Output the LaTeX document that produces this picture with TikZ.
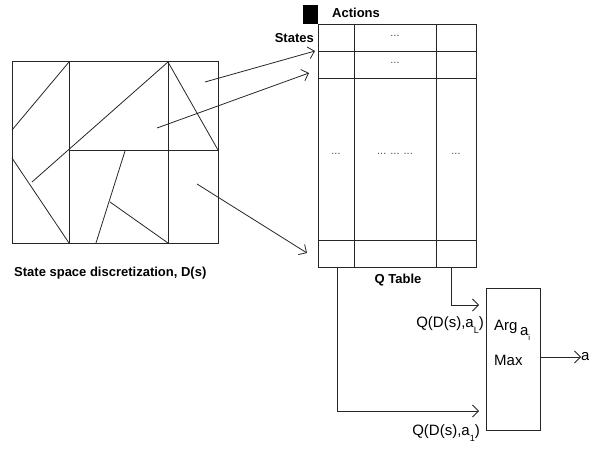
\documentclass[tikz,border=0pt]{standalone}
\usepackage{fontspec}
\setmainfont{Liberation Sans}
\usepackage{tikz}
\usetikzlibrary{arrows.meta, positioning, calc}

\begin{document}
\begin{tikzpicture}[x=1pt, y=-1pt,
        line/.style={line width=0.8pt, color=black!85},
        arrow/.style={line, -{Straight Barb[length=6pt, width=12pt]}},
        box/.style={draw=black!85, line width=0.8pt, anchor=north west, inner sep=0pt},
        lbl/.style={font=\bfseries\fontsize{13}{15}\selectfont, inner sep=0pt},
        txt/.style={font=\fontsize{15}{17}\selectfont, inner sep=0pt},
        dots/.style={font=\fontsize{11}{12}\selectfont, color=black!70, inner sep=0pt}
    ]
        \useasboundingbox (0,0) rectangle (589,452);

        % state space grid
        \node[box, minimum width=206, minimum height=182] (grid) at (12,61) {};
        \draw[line] (69,61) -- (69,243);
        \draw[line] (168,61) -- (168,243);
        \draw[line] (69,150) -- (218,150);
        \draw[line] (12,130) -- (69,62);
        \draw[line] (12,158) -- (69,243);
        \draw[line] (32,182) -- (168,62);
        \draw[line] (168,62) -- (218,150);
        \draw[line] (125,151) -- (96,243);
        \draw[line] (110,202) -- (168,243);
        \node[lbl, anchor=west] (dlabel) at (14,273) {State space discretization, D(s)};

        % Q table
        \node[box, minimum width=158, minimum height=243] (qtab) at (318,24) {};
        \draw[line] (354,24) -- (354,267);
        \draw[line] (436,24) -- (436,267);
        \draw[line] (318,51) -- (476,51);
        \draw[line] (318,78) -- (476,78);
        \draw[line] (318,240) -- (476,240);
        \fill[black] (303,5) rectangle (318,24);
        \node[lbl, anchor=west] (actions) at (332,13) {Actions};
        \node[lbl, anchor=east] (states) at (314,38) {States};
        \node[dots] (d1) at (395,36) {...};
        \node[dots] (d2) at (395,63) {...};
        \node[dots] (d3) at (336,154) {...};
        \node[dots] (d4) at (395,154) {... ... ...};
        \node[dots] (d5) at (456,154) {...};
        \node[lbl] (qlabel) at (398,280) {Q Table};

        % mapping arrows
        \coordinate (s1) at (205,82);
        \coordinate (s2) at (157,128);
        \coordinate (s3) at (197,184);
        \coordinate (t1) at (315,51);
        \coordinate (t2) at (309,73);
        \coordinate (t3) at (307,253);
        \draw[arrow] (s1) -- (t1);
        \draw[arrow] (s2) -- (t2);
        \draw[arrow] (s3) -- (t3);

        % arg max
        \node[box, minimum width=54, minimum height=142] (argmax) at (486,288) {};
        \node[txt, anchor=west] (arg) at (494,330) {Arg\,\raisebox{-5pt}{a\raisebox{-5pt}{\fontsize{8}{9}\selectfont i}}};
        \node[txt, anchor=west] (max) at (494,360) {Max};
        \node[txt, anchor=west] (act) at (581,357) {a};
        \draw[arrow] (argmax.east |- act) -- (act.west);

        \coordinate (qL) at (451,267);
        \coordinate (q1) at (337,267);
        \coordinate (inL) at (479,305);
        \coordinate (in1) at (479,411);
        \draw[arrow] (qL) |- (inL);
        \draw[arrow] (q1) |- (in1);
        \node[txt, anchor=east] (lL) at (484,325) {Q(D(s),a\raisebox{-6pt}{\fontsize{9}{10}\selectfont L})};
        \node[txt, anchor=east] (l1) at (480,433) {Q(D(s),a\raisebox{-6pt}{\fontsize{9}{10}\selectfont 1})};
    \end{tikzpicture}
\end{document}
